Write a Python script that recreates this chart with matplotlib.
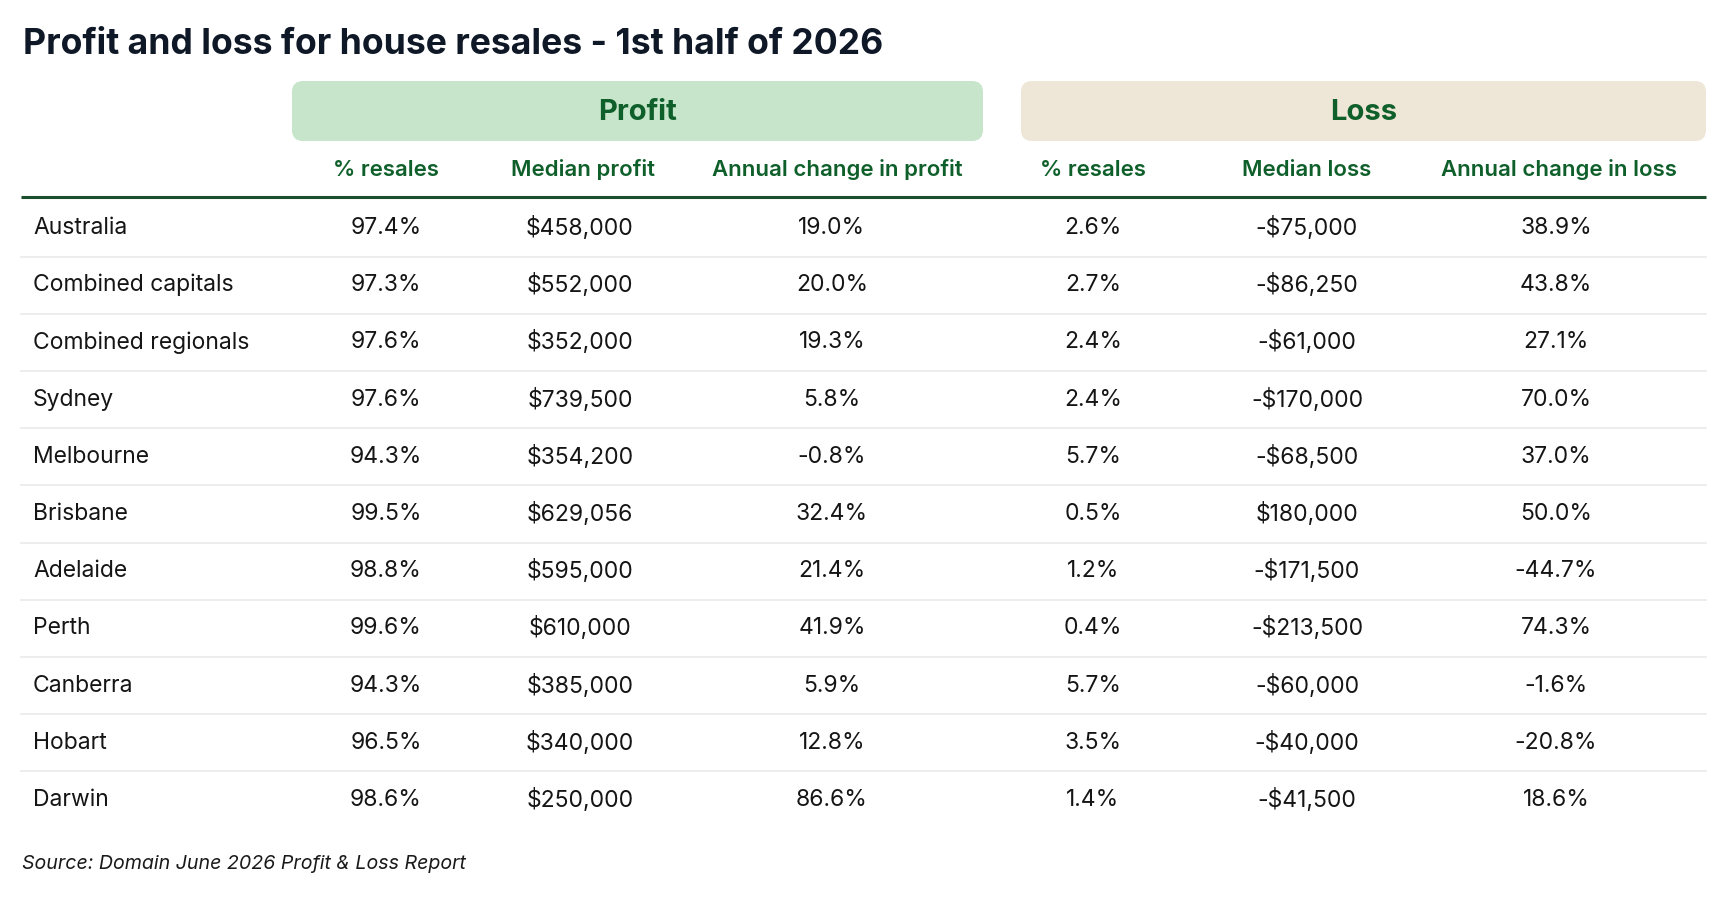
import matplotlib
matplotlib.use("Agg")
import matplotlib.pyplot as plt
from matplotlib.patches import FancyBboxPatch

plt.rcParams['font.family'] = ['Inter', 'DejaVu Sans']

regions = ["Australia", "Combined capitals", "Combined regionals", "Sydney", "Melbourne",
           "Brisbane", "Adelaide", "Perth", "Canberra", "Hobart", "Darwin"]
profit_pct = [97.4, 97.3, 97.6, 97.6, 94.3, 99.5, 98.8, 99.6, 94.3, 96.5, 98.6]
median_profit = [458000, 552000, 352000, 739500, 354200, 629056, 595000, 610000, 385000, 340000, 250000]
profit_change = [19.0, 20.0, 19.3, 5.8, -0.8, 32.4, 21.4, 41.9, 5.9, 12.8, 86.6]
loss_pct = [2.6, 2.7, 2.4, 2.4, 5.7, 0.5, 1.2, 0.4, 5.7, 3.5, 1.4]
median_loss = [-75000, -86250, -61000, -170000, -68500, 180000, -171500, -213500, -60000, -40000, -41500]
loss_change = [38.9, 43.8, 27.1, 70.0, 37.0, 50.0, -44.7, 74.3, -1.6, -20.8, 18.6]

col_headers = ["% resales", "Median profit", "Annual change in profit",
               "% resales", "Median loss", "Annual change in loss"]
title = "Profit and loss for house resales - 1st half of 2026"
source = "Source: Domain June 2026 Profit & Loss Report"


def pct(v):
    return f"{v:.1f}%"


def money(v):
    return f"-${abs(v):,}" if v < 0 else f"${v:,}"


W, H = 1733, 907
fig = plt.figure(figsize=(W / 100, H / 100), dpi=100)
ax = fig.add_axes([0, 0, 1, 1])
ax.set_xlim(0, W)
ax.set_ylim(H, 0)
ax.axis("off")

green_txt = "#0f5f2b"
dark = "#0f1826"
left, right = 21, 1706

ax.text(23, 45, title, fontsize=25.6, fontweight="bold", color=dark, va="center", ha="left")

# group header boxes
ax.add_patch(FancyBboxPatch((292, 81), 983 - 292, 60, boxstyle="round,pad=0,rounding_size=11",
                            fc="#c7e5ca", ec="none"))
ax.add_patch(FancyBboxPatch((1021, 81), 1706 - 1021, 60, boxstyle="round,pad=0,rounding_size=11",
                            fc="#eee6d7", ec="none"))
ax.text(638, 113, "Profit", fontsize=21, fontweight="bold", color=green_txt, ha="center", va="center")
ax.text(1364, 113, "Loss", fontsize=21, fontweight="bold", color=green_txt, ha="center", va="center")

col_x = [386, 583, 837, 1093, 1307, 1559]
val_x = [386, 580, 832, 1093, 1307, 1556]
for x, h in zip(col_x, col_headers):
    ax.text(x, 170, h, fontsize=16, fontweight="semibold", color=green_txt, ha="center", va="center")

ax.plot([left, right], [197, 197], color="#1b4f2c", lw=2.2, solid_capstyle="butt")

y0, dy = 228, 57.2
cols = [[pct(v) for v in profit_pct], [money(v) for v in median_profit],
        [pct(v) for v in profit_change], [pct(v) for v in loss_pct],
        [money(v) for v in median_loss], [pct(v) for v in loss_change]]
for i, name in enumerate(regions):
    y = y0 + i * dy
    ax.text(33, y, name, fontsize=16.5, color="#151515", ha="left", va="center")
    for x, c in zip(val_x, cols):
        ax.text(x, y, c[i], fontsize=16.5, color="#151515", ha="center", va="center")
    if i < len(regions) - 1:
        ax.plot([left, right], [y + dy / 2, y + dy / 2], color="#ececec", lw=1.3)

ax.text(22, 864, source, fontsize=14.1, fontstyle="italic", color="#1a1a1a", ha="left", va="center")

fig.savefig("out.png", dpi=100, facecolor="white")
